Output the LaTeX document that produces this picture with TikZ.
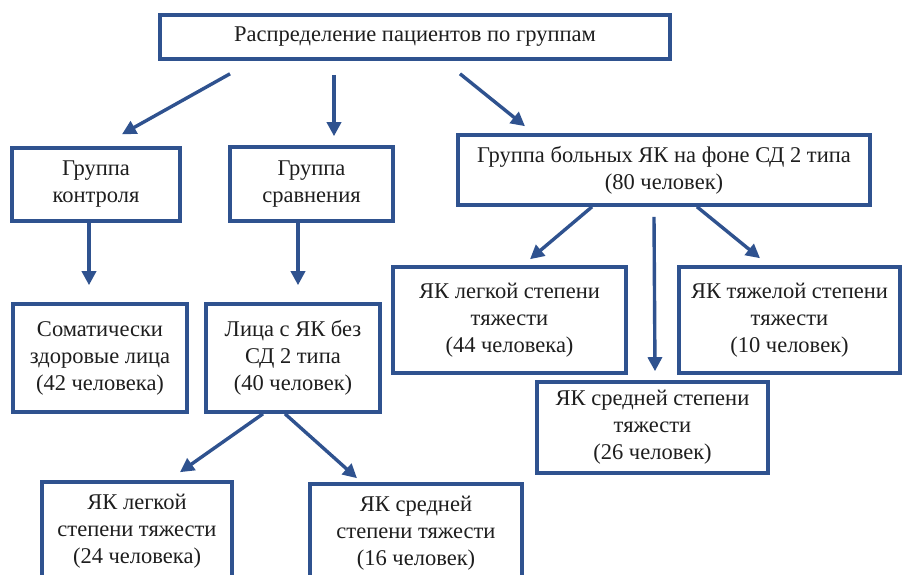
\documentclass[tikz,border=0pt]{standalone}
\usepackage{fontspec}
\setmainfont{Liberation Serif}
\usetikzlibrary{arrows.meta,calc}
\definecolor{bblue}{HTML}{2F528F}
\definecolor{txt}{HTML}{1E1E1E}
\begin{document}
\begin{tikzpicture}[x=1pt,y=-1pt,
  box/.style={draw=bblue, line width=3.6pt, fill=white, inner sep=0pt, align=center,
    text=txt, font=\fontsize{22.5}{27}\selectfont},
  arr/.style={draw=bblue, line width=3.4pt, -{Triangle[length=14pt,width=14pt]}}]
\useasboundingbox (0,0) rectangle (914,574);
\clip (0,0) rectangle (914,574);
\fill[white] (0,0) rectangle (914,574);

\node[box, minimum width=510pt, minimum height=44pt] (top) at (415,37) {Распределение пациентов по группам};
\node[box, minimum width=168pt, minimum height=73pt] (ctrl) at (96,184.5) {Группа\\контроля};
\node[box, minimum width=163pt, minimum height=74pt] (cmp) at (311.5,184) {Группа\\сравнения};
\node[box, minimum width=412pt, minimum height=70pt] (big) at (664,170) {Группа больных ЯК на фоне СД 2 типа\\(80 человек)};
\node[box, minimum width=174pt, minimum height=108pt] (soma) at (100,358) {Соматически\\здоровые лица\\(42 человека)};
\node[box, minimum width=174pt, minimum height=108pt] (lica) at (293,358) {Лица с ЯК без\\СД 2 типа\\(40 человек)};
\node[box, minimum width=233pt, minimum height=106pt] (l44) at (509.5,320) {ЯК легкой степени\\тяжести\\(44 человека)};
\node[box, minimum width=221pt, minimum height=106pt] (t10) at (789.5,320) {ЯК тяжелой степени\\тяжести\\(10 человек)};
\node[box, minimum width=231pt, minimum height=91pt] (s26) at (652.5,427.5) {ЯК средней степени\\тяжести\\(26 человек)};
\node[box, minimum width=190pt, minimum height=98pt] (b24) at (137,531) {ЯК легкой\\степени тяжести\\(24 человека)};
\node[box, minimum width=212pt, minimum height=98pt] (b16) at (416,533) {ЯК средней\\степени тяжести\\(16 человек)};

\draw[arr] ($(top.south)+(-185,13)$) -- ($(ctrl.north)+(26,-12)$);
\draw[arr] ($(top.south)+(-81,14)$) -- ($(cmp.north)+(22.5,-9)$);
\draw[arr] ($(top.south)+(45,13)$) -- ($(big.north)+(-139,-7)$);

\draw[arr] ($(ctrl.south)+(-7,0)$) -- ($(soma.north)+(-11,-17)$);
\draw[arr] ($(cmp.south)+(-13.5,0)$) -- ($(lica.north)+(5,-17)$);

\draw[arr] ($(lica.south)+(-30,0)$) -- ($(b24.north)+(43,-8)$);
\draw[arr] ($(lica.south)+(-8,0)$) -- ($(b16.north)+(-59,-4)$);

\draw[arr] ($(big.south)+(-72,0)$) -- ($(l44.north)+(20.5,-6)$);
\draw[arr] ($(big.south)+(-10,10)$) -- ($(s26.north)+(2.5,-9)$);
\draw[arr] ($(big.south)+(33,0)$) -- ($(t10.north)+(-29.5,-7)$);
\end{tikzpicture}
\end{document}
